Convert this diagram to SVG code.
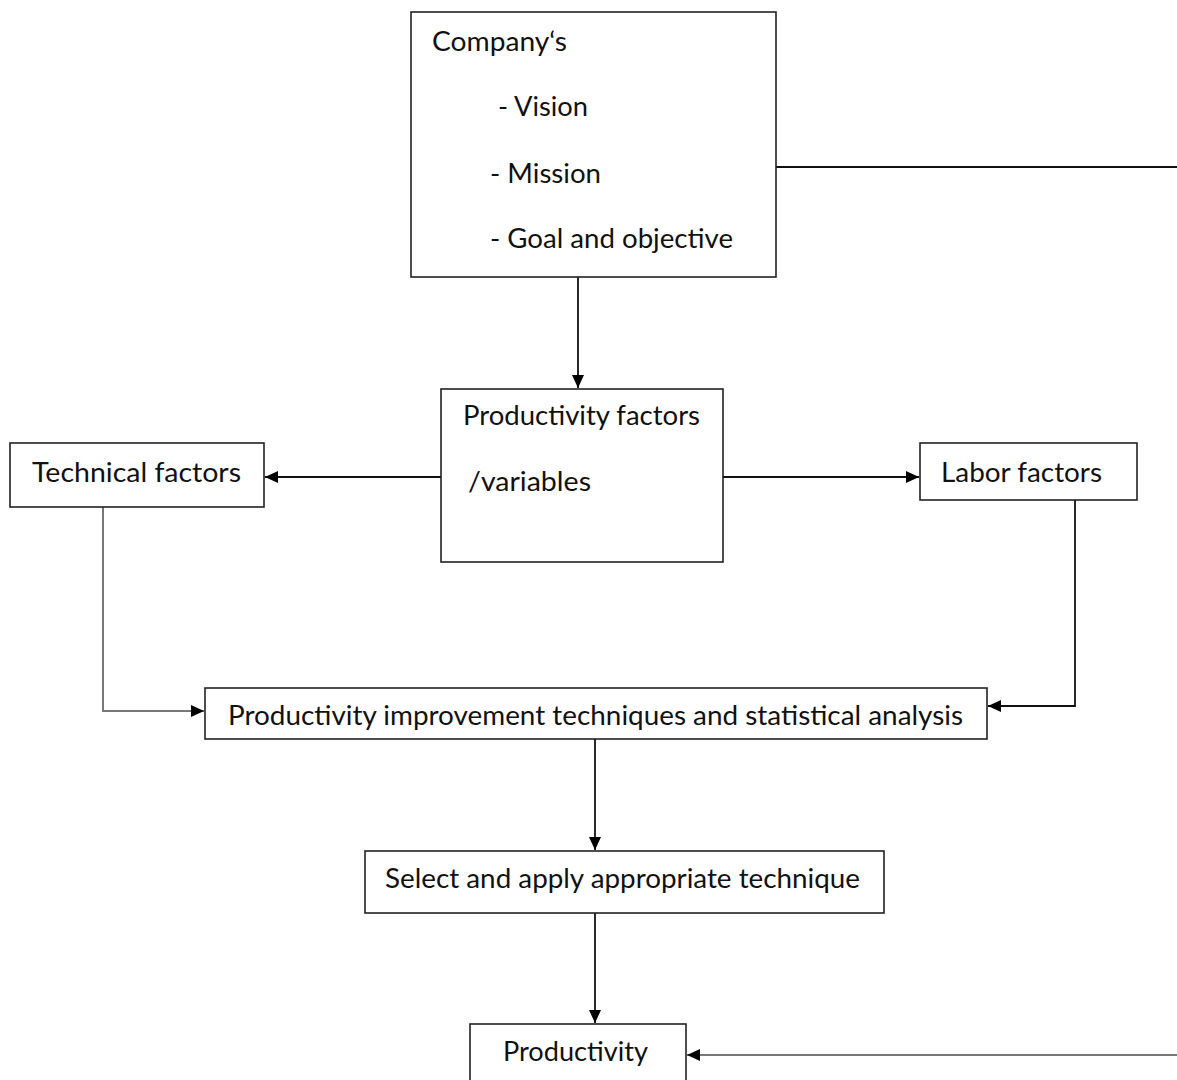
<svg xmlns="http://www.w3.org/2000/svg" width="1177" height="1080" viewBox="0 0 1177 1080">
<style>
.box{fill:#fff;stroke:#222;stroke-width:1.6}
.t{font-family:Lato,"Open Sans",sans-serif;font-size:26px;fill:#111}
.c{fill:none;stroke:#111;stroke-width:1.8}
.g{fill:none;stroke:#777;stroke-width:2}
</style>
<defs>
<marker id="ah" markerWidth="13" markerHeight="12" refX="13" refY="6" orient="auto" markerUnits="userSpaceOnUse">
<path d="M0,0 L13,6 L0,12 Z" fill="#000"/>
</marker>
</defs>
<rect width="1177" height="1080" fill="#fff"/>
<g id="connectors">
<line class="c" x1="578" y1="277" x2="578" y2="388" marker-end="url(#ah)"/>
<line class="c" x1="441" y1="477" x2="265" y2="477" marker-end="url(#ah)"/>
<line class="c" x1="723" y1="477" x2="919" y2="477" marker-end="url(#ah)"/>
<polyline class="g" points="103,507 103,711 204,711" marker-end="url(#ah)"/>
<polyline class="c" points="1075,500 1075,706 988,706" marker-end="url(#ah)"/>
<line class="c" x1="595" y1="739" x2="595" y2="850" marker-end="url(#ah)"/>
<line class="c" x1="595" y1="913" x2="595" y2="1023" marker-end="url(#ah)"/>
<line class="c" x1="776" y1="167" x2="1177" y2="167"/>
<line class="g" x1="1177" y1="1055" x2="687" y2="1055" marker-end="url(#ah)"/>
</g>
<g id="company">
<rect class="box" x="411" y="12" width="365" height="265"/>
<text class="t" x="432" y="51" textLength="135" lengthAdjust="spacingAndGlyphs">Company‘s</text>
<text class="t" x="498" y="116" textLength="90" lengthAdjust="spacingAndGlyphs">- Vision</text>
<text class="t" x="490" y="183" textLength="111" lengthAdjust="spacingAndGlyphs">- Mission</text>
<text class="t" x="490" y="248" textLength="243" lengthAdjust="spacingAndGlyphs">- Goal and objective</text>
</g>
<g id="productivity-factors">
<rect class="box" x="441" y="389" width="282" height="173"/>
<text class="t" x="463" y="425" textLength="237" lengthAdjust="spacingAndGlyphs">Productivity factors</text>
<text class="t" x="468" y="491" textLength="123" lengthAdjust="spacingAndGlyphs">/variables</text>
</g>
<g id="technical">
<rect class="box" x="10" y="443" width="254" height="64"/>
<text class="t" x="32" y="482" textLength="209" lengthAdjust="spacingAndGlyphs">Technical factors</text>
</g>
<g id="labor">
<rect class="box" x="920" y="443" width="217" height="57"/>
<text class="t" x="941" y="482" textLength="161" lengthAdjust="spacingAndGlyphs">Labor factors</text>
</g>
<g id="improvement">
<rect class="box" x="205" y="688" width="782" height="51"/>
<text class="t" x="228" y="725" textLength="735" lengthAdjust="spacingAndGlyphs">Productivity improvement techniques and statistical analysis</text>
</g>
<g id="select">
<rect class="box" x="365" y="851" width="519" height="62"/>
<text class="t" x="385" y="888" textLength="475" lengthAdjust="spacingAndGlyphs">Select and apply appropriate technique</text>
</g>
<g id="productivity">
<rect class="box" x="470" y="1024" width="216" height="70"/>
<text class="t" x="503" y="1061" textLength="145" lengthAdjust="spacingAndGlyphs">Productivity</text>
</g>
</svg>
